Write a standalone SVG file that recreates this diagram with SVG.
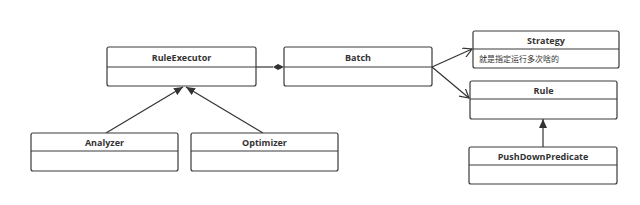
<svg xmlns="http://www.w3.org/2000/svg" width="640" height="205" viewBox="0 0 640 205">
<style>
.box{fill:#ffffff;stroke:#3a3a3a;stroke-width:1.2}
.div{stroke:#3a3a3a;stroke-width:1.2}
.t{font-family:"Open Sans","Liberation Sans",sans-serif;font-size:9px;font-weight:bold;fill:#333;text-anchor:middle}
.n{font-family:"Liberation Sans","Noto Sans CJK SC",sans-serif;font-size:8px;fill:#333}
.c{stroke:#333;stroke-width:1.2;fill:none}
</style>
<defs>
<marker id="fa" markerWidth="10" markerHeight="8" refX="9" refY="4" orient="auto" markerUnits="userSpaceOnUse">
<path d="M0,0 L9,4 L0,8 Z" fill="#333"/>
</marker>
<marker id="oa" markerWidth="10" markerHeight="10" refX="9" refY="5" orient="auto" markerUnits="userSpaceOnUse">
<path d="M0,0 L9,5 L0,10" fill="none" stroke="#333" stroke-width="1.2"/>
</marker>
</defs>
<rect width="640" height="205" fill="#ffffff"/>
<g id="connectors">
<line class="c" x1="256" y1="67" x2="273" y2="67"/>
<path d="M273,67 L278,64 L284,67 L278,70 Z" fill="#333"/>
<line class="c" x1="432" y1="67" x2="472" y2="49" marker-end="url(#oa)"/>
<line class="c" x1="432" y1="67" x2="469" y2="98" marker-end="url(#oa)"/>
<line class="c" x1="106" y1="133" x2="183" y2="87" marker-end="url(#fa)"/>
<line class="c" x1="263" y1="133" x2="186" y2="87" marker-end="url(#fa)"/>
<line class="c" x1="543" y1="147" x2="543" y2="119" marker-end="url(#fa)"/>
</g>
<g id="RuleExecutor">
<rect class="box" x="107" y="47" width="149" height="39" rx="2"/>
<line class="div" x1="107" y1="67" x2="256" y2="67"/>
<text class="t" x="181.5" y="60.5">RuleExecutor</text>
</g>
<g id="Batch">
<rect class="box" x="284" y="47" width="148" height="39" rx="2"/>
<line class="div" x1="284" y1="67" x2="432" y2="67"/>
<text class="t" x="358" y="60.5">Batch</text>
</g>
<g id="Strategy">
<rect class="box" x="473" y="31" width="146" height="37" rx="2"/>
<line class="div" x1="473" y1="49" x2="619" y2="49"/>
<text class="t" x="546" y="43.5">Strategy</text>
<text class="n" x="479" y="62">就是指定运行多次啥的</text>
</g>
<g id="Rule">
<rect class="box" x="470" y="81" width="147" height="38" rx="2"/>
<line class="div" x1="470" y1="99" x2="617" y2="99"/>
<text class="t" x="543.5" y="93.5">Rule</text>
</g>
<g id="Analyzer">
<rect class="box" x="31" y="133" width="147" height="38" rx="2"/>
<line class="div" x1="31" y1="151" x2="178" y2="151"/>
<text class="t" x="104.5" y="145.5">Analyzer</text>
</g>
<g id="Optimizer">
<rect class="box" x="191" y="133" width="147" height="38" rx="2"/>
<line class="div" x1="191" y1="151" x2="338" y2="151"/>
<text class="t" x="264.5" y="145.5">Optimizer</text>
</g>
<g id="PushDownPredicate">
<rect class="box" x="469" y="147" width="148" height="37" rx="2"/>
<line class="div" x1="469" y1="165" x2="617" y2="165"/>
<text class="t" x="543" y="159.5">PushDownPredicate</text>
</g>
</svg>
